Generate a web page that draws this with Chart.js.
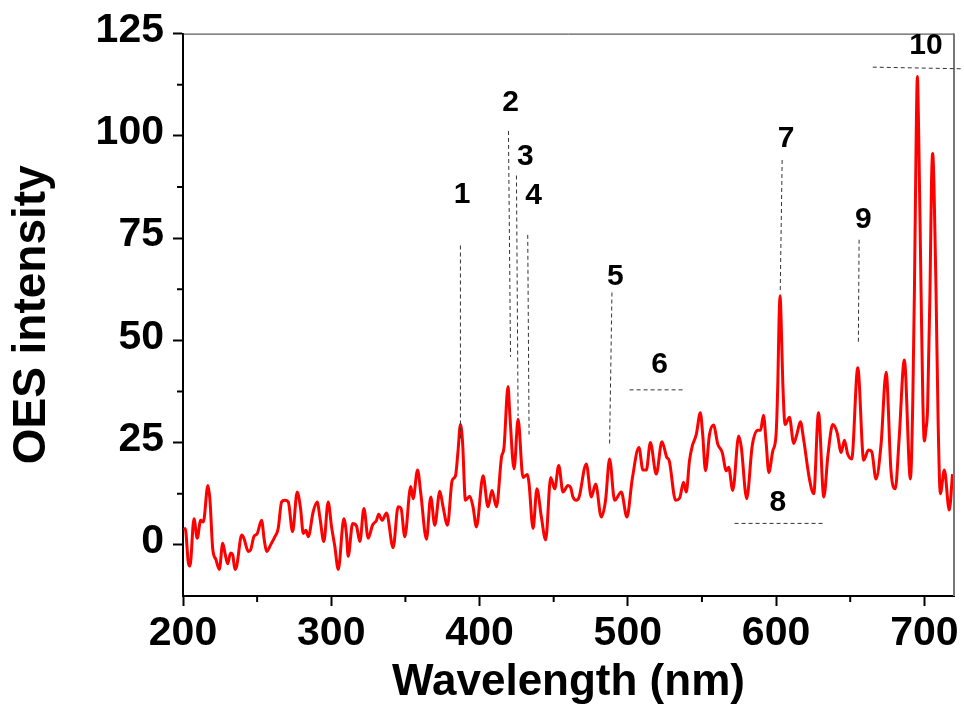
<!DOCTYPE html>
<html>
<head>
<meta charset="utf-8">
<title>OES spectrum</title>
<script src="https://cdn.jsdelivr.net/npm/chart.js@4.4.0/dist/chart.umd.min.js"></script>
<style>
  body { margin: 0; background: #fff; }
  #wrap { position: relative; width: 964px; height: 713px; }
</style>
</head>
<body>
<div id="wrap"><canvas id="oesChart"></canvas></div>
<script>
// OES スペクトル（発光強度 vs 波長）

// 横軸 波長 (nm)
const wavelength = [
  200.7, 201.5, 203.6, 204.7, 207.4, 209.6, 211.9, 213.7, 216.8, 218.2,
  220.0, 222.2, 224.5, 226.8, 228.3, 230.1, 232.1, 233.5, 235.0, 236.2,
  239.6, 241.1, 244.0, 245.6, 247.8, 250.1, 253.0, 254.8, 256.4, 259.1,
  262.0, 264.2, 266.5, 268.7, 271.0, 273.9, 277.0, 279.3, 281.1, 282.9,
  284.5, 287.8, 290.5, 292.3, 295.0, 297.9, 300.2, 302.4, 304.7, 308.5,
  310.3, 311.4, 314.4, 317.0, 319.3, 322.0, 324.9, 327.8, 330.5, 332.0,
  334.3, 337.3, 341.7, 345.1, 347.0, 349.6, 353.6, 355.2, 358.2, 360.4,
  364.2, 367.1, 369.8, 373.2, 375.4, 378.4, 381.5, 383.8, 385.5, 387.1,
  388.5, 390.5, 393.4, 395.6, 397.9, 402.4, 405.7, 408.4, 411.4, 414.8,
  416.5, 419.2, 420.4, 423.3, 426.0, 429.3, 432.3, 433.3, 436.1, 438.7,
  441.7, 444.6, 448.0, 450.7, 453.4, 456.3, 459.6, 461.5, 463.0, 465.3,
  467.0, 472.0, 475.4, 478.3, 482.1, 485.0, 487.7, 491.1, 495.6, 499.4,
  503.0, 507.5, 510.2, 512.5, 515.2, 519.2, 523.0, 526.3, 528.0, 532.2,
  534.9, 537.6, 539.4, 541.6, 543.5, 546.2, 548.9, 550.5, 552.4, 555.1,
  557.8, 560.7, 563.7, 566.4, 568.0, 570.8, 574.8, 576.5, 580.2, 583.9,
  587.7, 589.5, 591.5, 593.3, 595.1, 597.8, 600.0, 601.2, 602.0, 602.7,
  603.4, 604.5, 606.1, 609.0, 611.9, 614.0, 616.4, 618.5, 622.5, 625.4,
  628.6, 632.2, 635.0, 638.2, 641.2, 643.9, 646.1, 648.3, 651.0, 655.1,
  659.1, 662.3, 664.5, 667.4, 670.8, 674.2, 677.5, 680.4, 683.0, 686.5,
  690.6, 692.2, 693.3, 694.5, 695.3, 696.2, 697.8, 699.0, 700.0, 701.0,
  702.2, 703.8, 704.8, 705.6, 706.5, 707.9, 709.3, 710.8, 713.5, 716.8,
  719.0
];

// 縦軸 OES intensity
const intensity = [
  3.6, 4.0, -4.4, -5.2, 6.4, 1.6, 6.0, 5.6, 14.5, 10.9,
  -0.8, -3.6, -6.0, 0.4, -2.0, -4.6, -2.0, -2.4, -6.0, -5.2,
  2.4, 1.6, -1.6, -1.2, 2.0, 2.8, 6.0, 1.2, -1.6, 0.0,
  2.0, 4.0, 10.5, 10.9, 10.5, 3.2, 12.9, 8.9, 2.8, 3.6,
  2.0, 8.1, 10.5, 6.8, 0.8, 10.5, 4.4, -0.4, -6.0, 6.4,
  2.4, -2.8, 5.2, 4.6, 0.8, 8.9, 1.6, 4.8, 6.0, 7.5,
  6.0, 7.8, -0.7, 9.3, 9.0, 2.0, 14.3, 11.3, 18.3, 12.5,
  1.4, 11.7, 4.8, 13.1, 9.3, 4.8, 15.7, 16.9, 23.0, 29.4,
  25.4, 10.9, 11.9, 9.3, 4.4, 16.9, 9.3, 13.3, 9.3, 21.4,
  23.8, 38.7, 32.0, 18.6, 30.7, 16.5, 17.2, 15.3, 4.0, 13.7,
  6.8, 1.2, 16.5, 13.7, 19.4, 12.9, 14.5, 14.0, 11.7, 10.9,
  11.5, 19.8, 11.7, 14.9, 6.8, 10.9, 21.0, 10.9, 12.9, 6.8,
  16.1, 23.8, 18.3, 18.3, 25.0, 17.3, 25.2, 21.4, 20.5, 10.9,
  11.4, 15.3, 12.9, 20.6, 24.2, 27.0, 32.3, 27.0, 18.1, 27.0,
  29.3, 24.6, 22.6, 18.1, 19.0, 13.3, 26.6, 24.0, 11.3, 24.2,
  28.0, 28.0, 31.7, 25.0, 17.7, 23.0, 27.0, 40.0, 55.0, 60.9,
  55.0, 40.0, 29.4, 31.2, 24.8, 27.0, 30.1, 26.0, 16.1, 12.5,
  32.3, 11.7, 22.0, 29.4, 27.4, 22.6, 25.6, 22.2, 21.0, 43.3,
  20.7, 23.2, 22.8, 16.1, 24.6, 42.2, 18.1, 13.7, 26.0, 45.2,
  16.1, 35.0, 62.0, 100.0, 114.5, 100.0, 61.7, 35.0, 25.4, 28.0,
  33.5, 61.7, 88.0, 95.7, 88.0, 61.7, 30.0, 12.5, 18.3, 8.5,
  17.3
];

// 目盛り
const xTicks = [200, 300, 400, 500, 600, 700];
const xMinorTicks = [250, 350, 450, 550, 650];
const yTicks = [0, 25, 50, 75, 100, 125];
const yMinorTicks = [12.5, 37.5, 62.5, 87.5, 112.5];

// ピーク番号（データ座標）
const peakLabels = ['1', '2', '3', '4', '5', '6', '7', '8', '9', '10'];
const peakLabelX = [388.2, 421.0, 430.9, 436.5, 491.6, 521.4, 606.8, 601.2, 658.9, 701.1];
const peakLabelY = [85.1, 107.6, 94.4, 84.7, 64.9, 43.6, 98.8, 9.7, 79.0, 121.4];

// 点線 [x1, y1, x2, y2]（データ座標）
const guideLines = [
  [387.1, 73.2, 387.1, 25.4],
  [419.5, 101.2, 420.9, 46.0],
  [424.9, 90.3, 426.0, 31.5],
  [432.5, 75.8, 433.4, 27.0],
  [489.3, 61.7, 487.7, 24.2],
  [501.2, 37.9, 537.6, 37.9],
  [604.1, 94.1, 602.8, 62.1],
  [572.0, 5.25, 631.5, 5.25],
  [656.0, 74.6, 655.5, 49.6],
  [665.2, 116.8, 724.9, 116.4]
];

const FONT = '"Liberation Sans", Arial, Helvetica, sans-serif';
Chart.defaults.font.family = FONT;
Chart.defaults.color = '#000';

let points = [];
for (let i = 0; i < wavelength.length; i++) {
  points.push({x: wavelength[i], y: intensity[i]});
}

// 補助目盛り・枠・注記
const decor = {
  id: 'decor',
  afterDraw(chart) {
    const ctx = chart.ctx;
    const xs = chart.scales.x;
    const ys = chart.scales.y;
    const a = chart.chartArea;
    ctx.save();

    // 上・右の枠
    ctx.strokeStyle = '#333';
    ctx.lineWidth = 1;
    ctx.beginPath();
    ctx.moveTo(a.left, a.top + 0.5);
    ctx.lineTo(a.right, a.top + 0.5);
    ctx.stroke();
    ctx.strokeStyle = '#777';
    ctx.lineWidth = 2;
    ctx.beginPath();
    ctx.moveTo(a.right, a.top);
    ctx.lineTo(a.right, a.bottom);
    ctx.stroke();

    // 補助目盛り
    ctx.strokeStyle = '#000';
    ctx.lineWidth = 2;
    xMinorTicks.forEach(v => {
      const px = xs.getPixelForValue(v);
      ctx.beginPath();
      ctx.moveTo(px, a.bottom);
      ctx.lineTo(px, a.bottom + 6);
      ctx.stroke();
    });
    yMinorTicks.forEach(v => {
      const py = ys.getPixelForValue(v);
      ctx.beginPath();
      ctx.moveTo(a.left, py);
      ctx.lineTo(a.left - 6, py);
      ctx.stroke();
    });

    // 点線
    ctx.setLineDash([4, 3]);
    ctx.lineWidth = 1;
    ctx.strokeStyle = '#333';
    guideLines.forEach(g => {
      ctx.beginPath();
      ctx.moveTo(xs.getPixelForValue(g[0]), ys.getPixelForValue(g[1]));
      ctx.lineTo(xs.getPixelForValue(g[2]), ys.getPixelForValue(g[3]));
      ctx.stroke();
    });
    ctx.setLineDash([]);

    // 番号
    ctx.fillStyle = '#000';
    ctx.font = 'bold 30px ' + FONT;
    ctx.textAlign = 'center';
    ctx.textBaseline = 'alphabetic';
    for (let i = 0; i < peakLabels.length; i++) {
      ctx.fillText(peakLabels[i], xs.getPixelForValue(peakLabelX[i]), ys.getPixelForValue(peakLabelY[i]) + 6);
    }
    ctx.restore();
  }
};

let ctx = document.getElementById('oesChart').getContext('2d');
window.oesChart = new Chart(ctx, {
  type: 'line',
  data: {
    datasets: [{
      label: 'OES',
      data: points,
      borderColor: '#ff0000',
      borderWidth: 3,
      pointRadius: 0,
      cubicInterpolationMode: 'monotone',
      fill: false
    }]
  },
  options: {
    animation: false,
    responsive: true,
    maintainAspectRatio: false,
    devicePixelRatio: 1,
    layout: {
      padding: {top: 29, right: 10, left: 0, bottom: 0}
    },
    plugins: {
      legend: {display: false},
      tooltip: {enabled: false}
    },
    scales: {
      x: {
        type: 'linear',
        min: 200,
        max: 720,
        afterBuildTicks: (axis) => { axis.ticks = xTicks.map(v => ({value: v})); },
        afterFit: (axis) => { axis.height = 117; },
        grid: {display: true, drawOnChartArea: false, drawTicks: true, tickLength: 10, tickWidth: 2, color: '#000'},
        border: {display: true, color: '#000', width: 2},
        ticks: {font: {size: 41, weight: 'bold'}, color: '#000', padding: 3, maxRotation: 0},
        title: {
          display: true,
          text: 'Wavelength (nm)',
          font: {size: 44, weight: 'bold'},
          color: '#000',
          padding: {top: 0, bottom: 4}
        }
      },
      y: {
        type: 'linear',
        min: -12.5,
        max: 125,
        afterBuildTicks: (axis) => { axis.ticks = yTicks.map(v => ({value: v})); },
        afterFit: (axis) => { axis.width = 183; },
        grid: {display: true, drawOnChartArea: false, drawTicks: true, tickLength: 10, tickWidth: 2, color: '#000'},
        border: {display: true, color: '#000', width: 2},
        ticks: {font: {size: 41, weight: 'bold'}, color: '#000', padding: 9, labelOffset: -3},
        title: {
          display: true,
          text: 'OES intensity',
          font: {size: 46, weight: 'bold'},
          color: '#000',
          padding: {top: 5, bottom: 0}
        }
      }
    }
  },
  plugins: [decor]
});
</script>
</body>
</html>
